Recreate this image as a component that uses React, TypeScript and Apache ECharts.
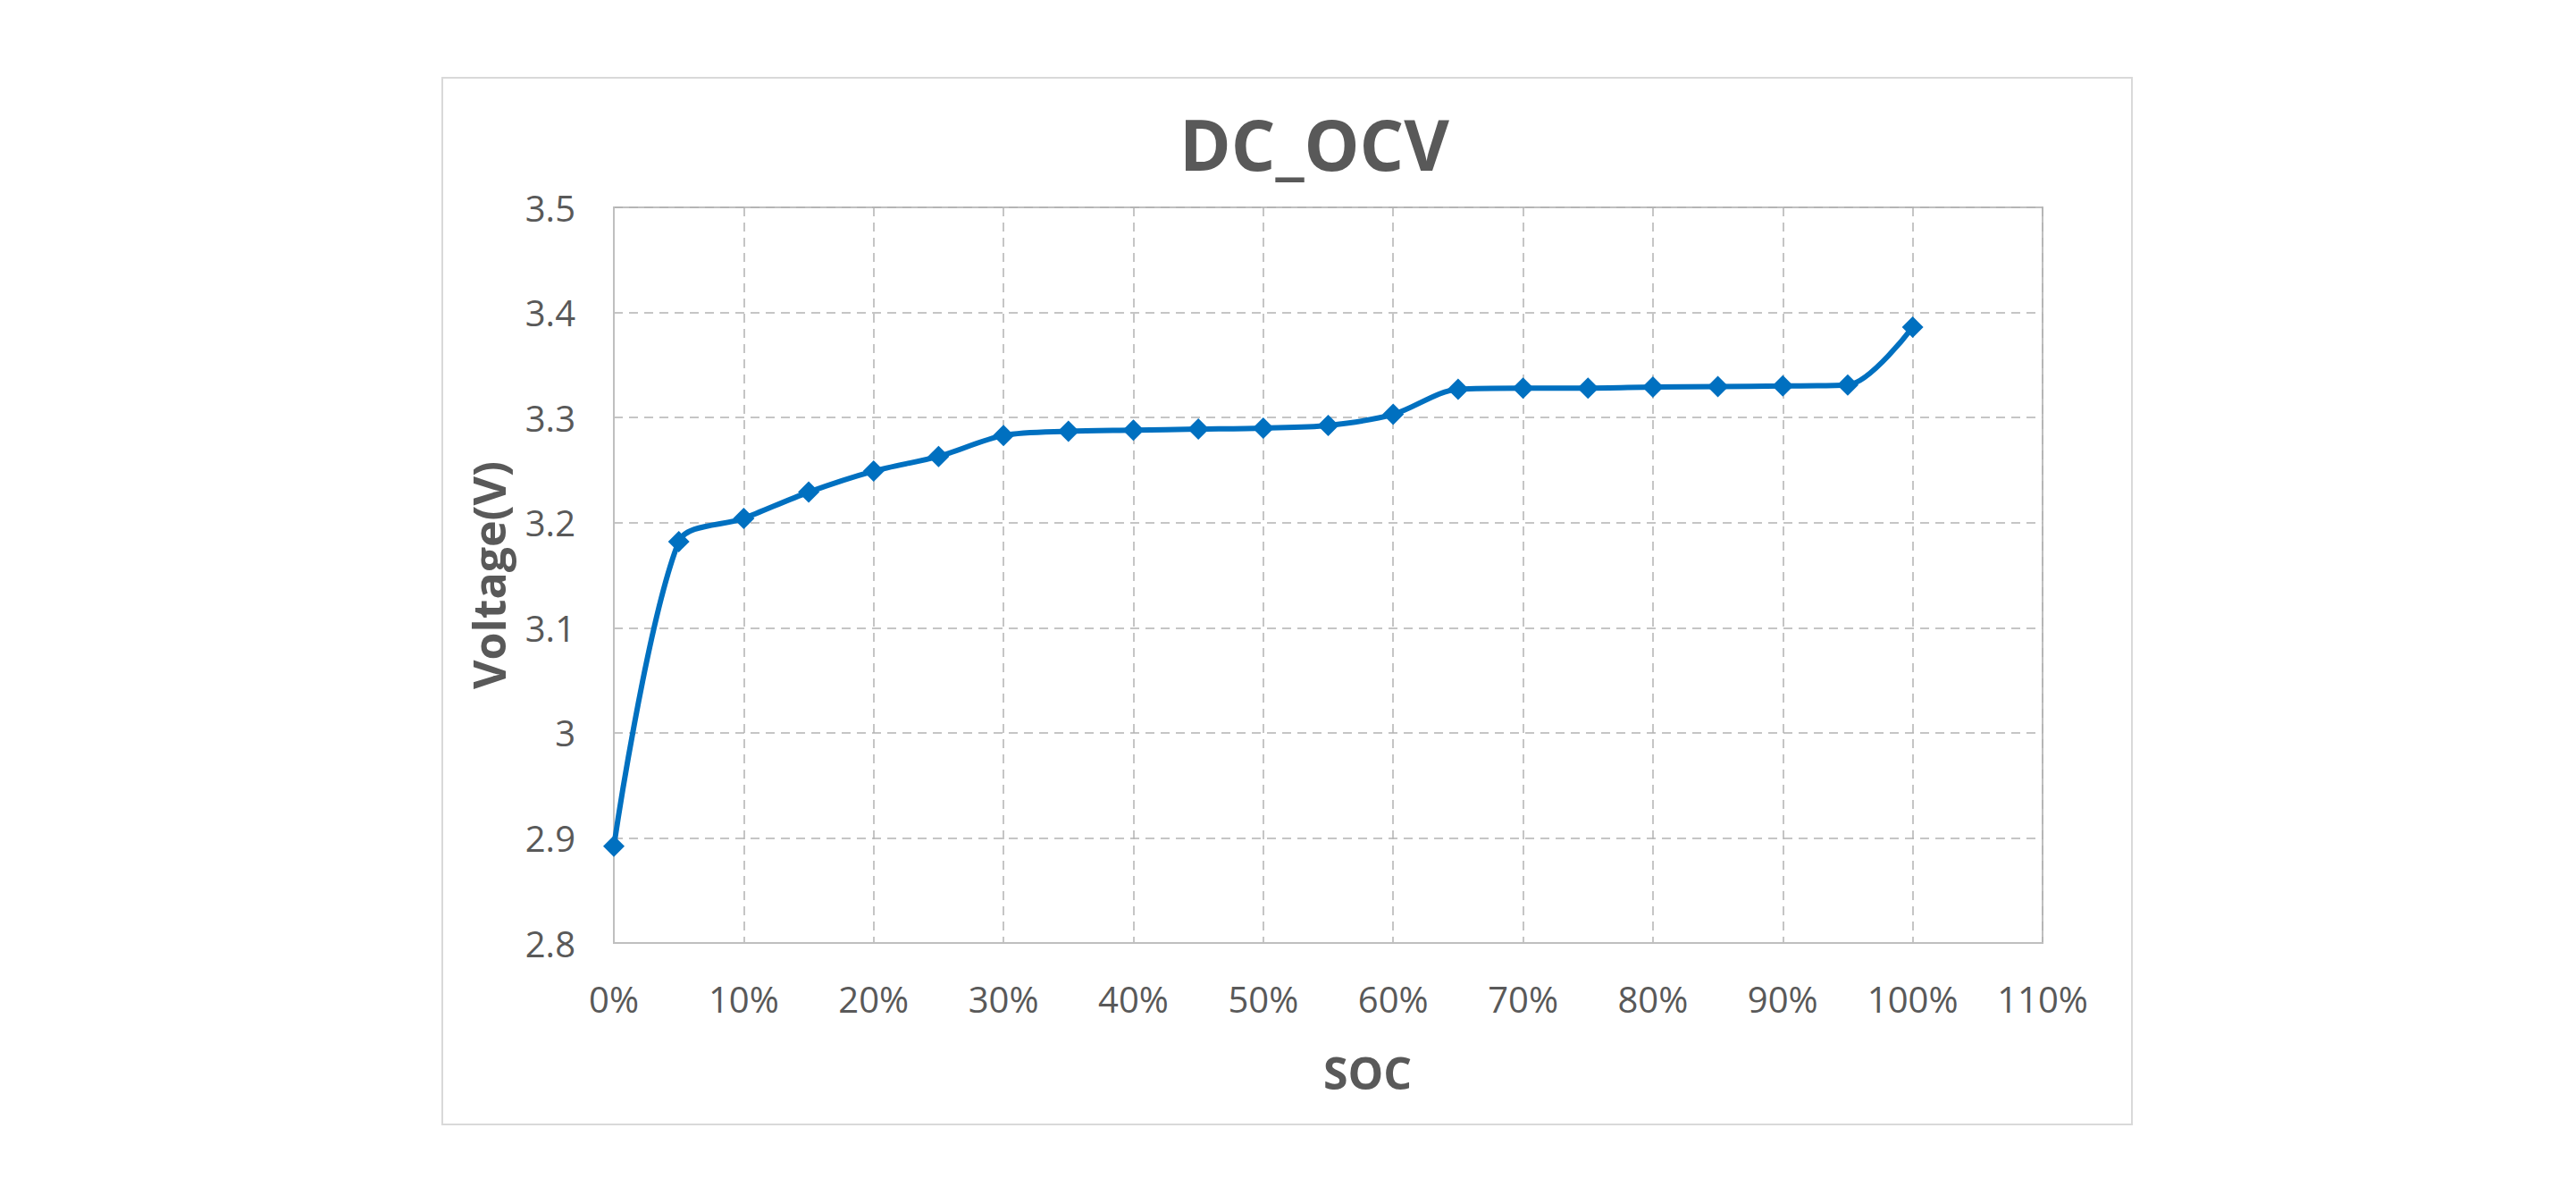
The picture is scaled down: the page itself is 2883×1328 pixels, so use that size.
import React, { useEffect, useRef } from "react";
import * as echarts from "echarts";

const socValues = [0, 0.05, 0.1, 0.15, 0.2, 0.25, 0.3, 0.35, 0.4, 0.45, 0.5, 0.55, 0.6, 0.65, 0.7, 0.75, 0.8, 0.85, 0.9, 0.95, 1.0];
const voltageValues = [2.892, 3.182, 3.204, 3.229, 3.249, 3.263, 3.283, 3.287, 3.288, 3.289, 3.290, 3.2925, 3.303, 3.327, 3.328, 3.328, 3.329, 3.3295, 3.330, 3.331, 3.386];

const titleText = "DC_OCV";
const xAxisName = "SOC";
const yAxisName = "Voltage(V)";

const FONT = "'Open Sans', 'Noto Sans', sans-serif";
const TEXT_COLOR = "#595959";

export default function App() {
  const ref = useRef<HTMLDivElement>(null);

  useEffect(() => {
    if (!ref.current) return;
    const chart = echarts.init(ref.current, null, { renderer: "svg" });
    const data = socValues.map((x, i) => [x, voltageValues[i]]);
    chart.setOption({
      animation: false,
      backgroundColor: "#ffffff",
      title: {
        text: titleText,
        left: 1466,
        top: 117,
        textAlign: "center",
        textStyle: {
          fontFamily: FONT,
          fontSize: 78,
          fontWeight: "bold",
          color: TEXT_COLOR,
        },
      },
      graphic: [
        {
          type: "rect",
          shape: { x: 495, y: 87, width: 1891, height: 1171 },
          style: { fill: "none", stroke: "#D9D9D9", lineWidth: 2 },
          silent: true,
          z: -1,
        },
      ],
      grid: {
        left: 687,
        top: 232,
        width: 1599,
        height: 823,
        show: true,
        borderColor: "#BFBFBF",
        borderWidth: 2,
        backgroundColor: "transparent",
      },
      xAxis: {
        type: "value",
        min: 0,
        max: 1.1,
        interval: 0.1,
        name: xAxisName,
        nameLocation: "middle",
        nameGap: 120,
        nameTextStyle: {
          fontFamily: FONT,
          fontSize: 50,
          fontWeight: "bold",
          color: TEXT_COLOR,
          padding: [0, 0, 0, 88],
        },
        axisLine: { show: true, lineStyle: { color: "#BFBFBF", width: 2 } },
        axisTick: { show: false },
        axisLabel: {
          margin: 42,
          fontFamily: FONT,
          fontSize: 40,
          color: TEXT_COLOR,
          formatter: (v: number) => `${Math.round(v * 100)}%`,
        },
        splitLine: {
          show: true,
          lineStyle: { color: "#B3B3B3", width: 1.5, type: [10, 7] },
        },
      },
      yAxis: {
        type: "value",
        min: 2.8,
        max: 3.5,
        interval: 0.1,
        name: yAxisName,
        nameLocation: "middle",
        nameGap: 115,
        nameRotate: 90,
        nameTextStyle: {
          fontFamily: FONT,
          fontSize: 50,
          fontWeight: "bold",
          color: TEXT_COLOR,
        },
        axisLine: { show: true, lineStyle: { color: "#BFBFBF", width: 2 } },
        axisTick: { show: false },
        axisLabel: {
          margin: 43,
          fontFamily: FONT,
          fontSize: 40,
          color: TEXT_COLOR,
          formatter: (v: number) => `${Math.round(v * 10) / 10}`,
        },
        splitLine: {
          show: true,
          lineStyle: { color: "#B3B3B3", width: 1.5, type: [10, 7] },
        },
      },
      series: [
        {
          type: "line",
          data,
          smooth: 0.3,
          symbol: "diamond",
          symbolSize: 24,
          lineStyle: { color: "#0070C0", width: 6 },
          itemStyle: { color: "#0070C0" },
        },
      ],
    });
    return () => chart.dispose();
  }, []);

  return (
    <div
      ref={ref}
      style={{ position: "fixed", left: 0, top: 0, width: 2883, height: 1328, background: "#fff" }}
    />
  );
}
